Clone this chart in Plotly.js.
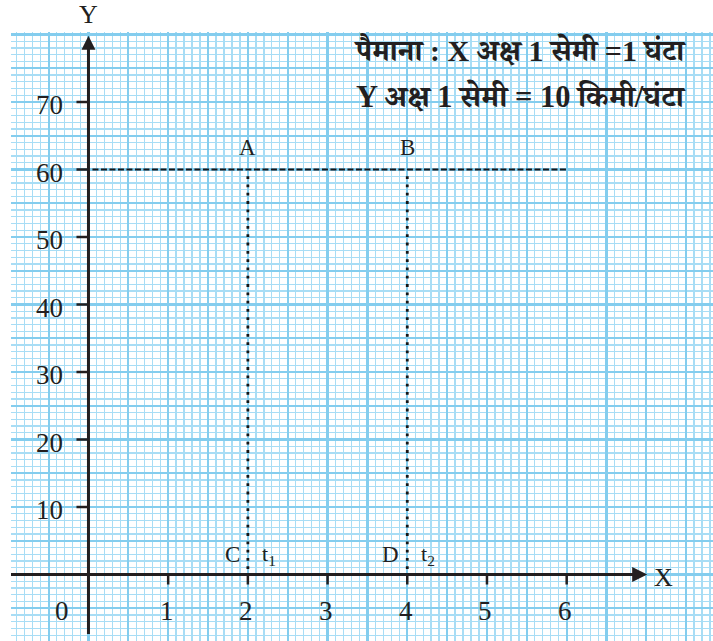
<!DOCTYPE html>
<html>
<head>
<meta charset="utf-8">
<script src="https://cdn.plot.ly/plotly-3.0.1.min.js"></script>
<style>html,body{margin:0;padding:0;background:#fff;}#chart{width:713px;height:641px;}</style>
</head>
<body>
<div id="chart"></div>
<script>
// ---- data ----
const xTickVals = [0, 1, 2, 3, 4, 5, 6];          // time (hours)
const xTickText = ['0', '1', '2', '3', '4', '5', '6'];
const yTickVals = [10, 20, 30, 40, 50, 60, 70];     // speed (km/h)
const yTickText = ['10', '20', '30', '40', '50', '60', '70'];
const speed = 60;                 // constant speed, km/h
const lineStart = 0, lineEnd = 6; // horizontal speed line (hours)
const pointTimes = [2, 4];        // t1, t2
const topLabels = ['A', 'B'];
const bottomLabels = ['C', 'D'];
const timeLabels = ['t<sub>1</sub>', 't<sub>2</sub>'];
const scaleLine1 = 'पैमाना : X अक्ष 1 सेमी =1 घंटा';
const scaleLine2 = 'Y अक्ष 1 सेमी = 10 किमी/घंटा';
const xAxisEnd = 7.01, xAxisStart = -1.05;
const yAxisEnd = 79.8, yAxisStart = -8.8;

const INK = '#231f20';
const SERIF = '"Liberation Serif", "Times New Roman", serif';
const DEVA = '"Liberation Serif", "Noto Serif Devanagari", "Noto Sans Devanagari", "Lohit Devanagari", "FreeSerif", serif';

const traces = [];
// horizontal dashed speed line
traces.push({
  x: [lineStart + 0.05, lineEnd], y: [speed, speed],
  mode: 'lines', line: {color: '#1a1718', width: 1.8, dash: '6px,2.5px'},
  hoverinfo: 'skip', showlegend: false
});
// dotted verticals
pointTimes.forEach(t => {
  traces.push({
    x: [t, t], y: [0.8, speed - 0.5],
    mode: 'lines', line: {color: '#151515', width: 2.8, dash: '2.8px,5.5px'},
    hoverinfo: 'skip', showlegend: false
  });
});
// axes lines
traces.push({x: [xAxisStart, xAxisEnd - 0.1], y: [0, 0], mode: 'lines',
  line: {color: INK, width: 3}, hoverinfo: 'skip', showlegend: false});
traces.push({x: [0, 0], y: [yAxisStart, yAxisEnd - 1.5], mode: 'lines',
  line: {color: INK, width: 3}, hoverinfo: 'skip', showlegend: false});
// arrowheads
traces.push({x: [xAxisEnd], y: [0], mode: 'markers',
  marker: {symbol: 'arrow-right', size: 15, color: INK, line: {width: 0}},
  hoverinfo: 'skip', showlegend: false});
traces.push({x: [0], y: [yAxisEnd], mode: 'markers',
  marker: {symbol: 'arrow-up', size: 14, color: INK, line: {width: 0}},
  hoverinfo: 'skip', showlegend: false});

const shapes = [];
// x tick marks (below axis)
xTickVals.slice(1).forEach(v => {
  shapes.push({type: 'line', xref: 'x', yref: 'y', ysizemode: 'pixel', yanchor: 0,
    x0: v, x1: v, y0: 0, y1: -10, line: {color: INK, width: 2.5}});
});
// y tick marks (left of axis)
yTickVals.forEach(v => {
  shapes.push({type: 'line', xref: 'x', yref: 'y', xsizemode: 'pixel', xanchor: 0,
    x0: -12, x1: 0, y0: v, y1: v, line: {color: INK, width: 2.5}});
});

const ann = [];
// axis names
ann.push({x: 0, y: 1, xref: 'x', yref: 'paper', yanchor: 'bottom', yshift: 1, text: 'Y', showarrow: false,
  font: {family: SERIF, size: 26, color: INK}});
ann.push({x: xAxisEnd, y: 0, xref: 'x', yref: 'y', xanchor: 'left', xshift: 5, yshift: -3, text: 'X', showarrow: false,
  font: {family: SERIF, size: 26, color: INK}});
// x tick labels
xTickVals.forEach((v, i) => {
  ann.push({x: v, y: 0, xref: 'x', yref: 'y', text: xTickText[i], showarrow: false,
    xshift: v === 0 ? -26 : -1.5, yshift: -36, font: {family: SERIF, size: 27, color: INK}});
});
// y tick labels
yTickVals.forEach((v, i) => {
  ann.push({x: 0, y: v, xref: 'x', yref: 'y', text: yTickText[i], showarrow: false,
    xanchor: 'right', xshift: -23, yshift: -3, font: {family: SERIF, size: 27, color: INK}});
});
// point labels
pointTimes.forEach((t, i) => {
  ann.push({x: t, y: speed, xref: 'x', yref: 'y', text: topLabels[i], showarrow: false,
    yshift: 22, font: {family: SERIF, size: 23, color: INK}});
  ann.push({x: t, y: 0, xref: 'x', yref: 'y', text: bottomLabels[i], showarrow: false,
    xanchor: 'right', xshift: -6, yshift: 20, font: {family: SERIF, size: 23, color: INK}});
  ann.push({x: t, y: 0, xref: 'x', yref: 'y', text: timeLabels[i], showarrow: false,
    xanchor: 'left', xshift: 12, yshift: 20, font: {family: SERIF, size: 22, color: INK}});
});
// scale text
ann.push({x: 0.486, y: 0.9704, xref: 'paper', yref: 'paper', xanchor: 'left', yanchor: 'middle',
  text: '<b>' + scaleLine1 + '</b>', showarrow: false, font: {family: DEVA, size: 30, color: INK}});
ann.push({x: 0.489, y: 0.8933, xref: 'paper', yref: 'paper', xanchor: 'left', yanchor: 'middle',
  text: '<b>' + scaleLine2 + '</b>', showarrow: false, font: {family: DEVA, size: 30.5, color: INK}});

const layout = {
  width: 713, height: 641,
  margin: {l: 11, r: 0, t: 32, b: 0, pad: 0},
  paper_bgcolor: '#ffffff', plot_bgcolor: '#ffffff',
  showlegend: false,
  xaxis: {
    range: [-0.972, 7.836], showticklabels: false, ticks: '', zeroline: false, showline: false,
    tick0: 0, dtick: 0.5, showgrid: true, gridcolor: '#84cdee', gridwidth: 2.2,
    minor: {tick0: 0, dtick: 0.1, showgrid: true, gridcolor: '#a8ddf5', gridwidth: 1.4},
    fixedrange: true
  },
  yaxis: {
    range: [-9.85, 80.37], showticklabels: false, ticks: '', zeroline: false, showline: false,
    tick0: 0, dtick: 5, showgrid: true, gridcolor: '#84cdee', gridwidth: 2.2,
    minor: {tick0: 0, dtick: 1, showgrid: true, gridcolor: '#a8ddf5', gridwidth: 1.4},
    fixedrange: true
  },
  shapes: shapes,
  annotations: ann
};

Plotly.newPlot('chart', traces, layout, {displayModeBar: false, staticPlot: true});
</script>
</body>
</html>
